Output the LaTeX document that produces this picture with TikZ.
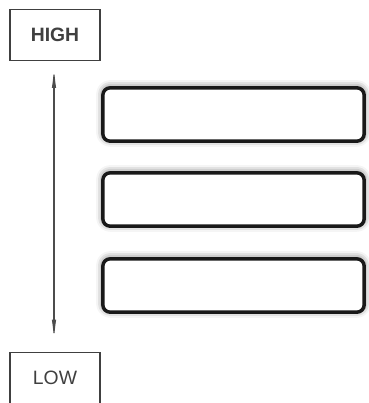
\documentclass[tikz,border=0pt]{standalone}
\usepackage{fontspec}
\setmainfont{Liberation Sans}
\usetikzlibrary{arrows.meta,shadows.blur}
\tikzset{
  levelbox/.style={draw=black!75, line width=0.9pt, fill=white, text=black!75,
    minimum width=67.5pt, minimum height=38.5pt, inner sep=0pt},
  barbox/.style={draw=black!90, line width=2.6pt, fill=white, rounded corners=5.5pt,
    minimum width=196pt, minimum height=40pt, inner sep=0pt,
    blur shadow={shadow xshift=0pt, shadow yshift=0.8pt, shadow blur radius=5pt, shadow opacity=60}},
  scalearrow/.style={draw=black!70, line width=0.8pt,
    {Latex[length=16pt,width=3.2pt]}-{Latex[length=16pt,width=3.2pt]}}
}
\begin{document}
\begin{tikzpicture}[x=0.75pt,y=-0.75pt]
  \useasboundingbox (0,0) rectangle (368,403);
  {\fontsize{14.5pt}{17pt}\selectfont

  % Marking level HIGH by box
  \node [levelbox] (high) at (55,35) {\textbf{HIGH}};%

  % Marking level LOW by box
  \node [levelbox] (low) at (55,378) {LOW};%

  % Drawing scale between HIGH and LOW
  \draw [scalearrow, shorten <=4pt, shorten >=8pt] ([xshift=-0.75pt]high.south) -- ([xshift=-0.75pt]low.north);%

  % Drawing bar 1
  \node [barbox] (barA) at (233.5,114.5) {};%

  % Drawing bar 2
  \node [barbox] (barB) at (233.5,199.5) {};%

  % Drawing bar 3
  \node [barbox] (barC) at (233.5,285.5) {};%
  }
\end{tikzpicture}
\end{document}
